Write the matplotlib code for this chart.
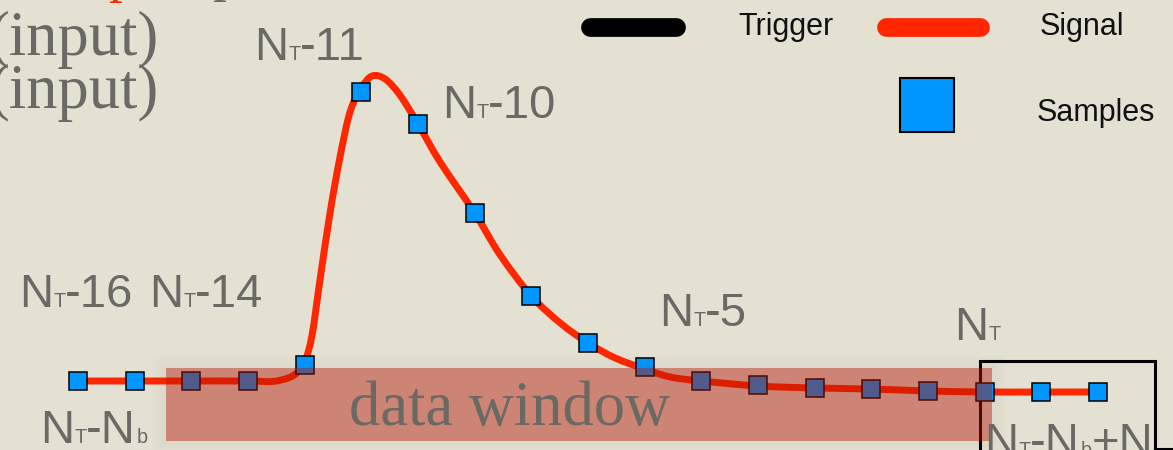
import matplotlib
matplotlib.use("Agg")
import matplotlib.pyplot as plt
from matplotlib.path import Path
from matplotlib.patches import PathPatch, Rectangle
import numpy as np

# ---------------- data ----------------
# sample index (0 = N_T-N_b) and amplitude of each sample
sample_index = list(range(19))
sample_amp = [19, 19, 19, 19, 35, 308, 276, 187, 104, 57, 33, 19, 15, 12, 11, 9, 8, 8, 8]

# signal curve knots (sample-index units, amplitude)
signal_x = [0, 1, 2, 3, 3.42, 3.71, 3.88, 4.0, 4.13, 4.27, 4.45, 4.62, 4.80, 5.0, 5.19,
            5.42, 5.68, 6.0, 6.39, 7, 7.45, 8, 8.51, 9, 9.48, 10, 10.45, 11, 12, 13, 14,
            15, 16, 17, 18]
signal_a = [19, 19, 19, 19, 18.5, 22, 28, 37, 65, 120, 188, 242, 288, 312, 324,
            321, 305, 276, 238, 187, 145, 104, 77, 57, 42, 31, 23, 19, 14, 12, 11,
            9, 8, 8, 8]

window_start, window_end = 1.56, 16.13     # data window (sample-index units)

legend_labels = ["Trigger", "Signal", "Samples"]

# ---------------- style ----------------
BG = "#e4e1d3"
GREY = "#6b6964"
RED = "#ff2600"
BLUE = "#0096ff"
W, H = 1173, 450
X0, DX = 78.0, 56.67

def px_x(px):
    return (px - X0) / DX

def px_y(py):
    return 400 - py

fig = plt.figure(figsize=(W / 100, H / 100), dpi=100)
fig.patch.set_facecolor(BG)
ax = fig.add_axes([0, 0, 1, 1])
ax.set_facecolor(BG)
ax.set_xlim(px_x(0), px_x(W))
ax.set_ylim(px_y(H), px_y(0))
ax.axis("off")

# --- trigger box (under the data window) ---
box = Rectangle((px_x(980), px_y(470)), px_x(1155) - px_x(980), px_y(361) - px_y(470),
                fill=False, ec="black", lw=2.2, zorder=2)
ax.add_patch(box)
ax.plot([px_x(1155), px_x(1173)], [px_y(449), px_y(449)], color="black", lw=2.2, zorder=2)

# --- signal curve (Catmull-Rom -> Bezier) ---
P = np.column_stack([signal_x, signal_a]).astype(float)
Pext = np.vstack([P[0], P, P[-1]])
verts = [tuple(P[0])]
codes = [Path.MOVETO]
for k in range(1, len(Pext) - 2):
    p0, p1, p2, p3 = Pext[k - 1], Pext[k], Pext[k + 1], Pext[k + 2]
    c1 = p1 + (p2 - p0) / 6.0
    c2 = p2 - (p3 - p1) / 6.0
    verts += [tuple(c1), tuple(c2), tuple(p2)]
    codes += [Path.CURVE4] * 3
ax.add_patch(PathPatch(Path(verts, codes), fill=False, ec=RED, lw=5,
                       capstyle="round", joinstyle="round", zorder=3))

# --- samples ---
ax.plot(sample_index, sample_amp, ls="none", marker="s", ms=13.5, mfc=BLUE,
        mec="black", mew=1.1, zorder=4)

# --- data window soft shadow (rings) + rectangle ---
def rect_path(x0, y0, x1, y1, reverse=False):
    pts = [(x0, y0), (x1, y0), (x1, y1), (x0, y1), (x0, y0)]
    if reverse:
        pts = pts[::-1]
    return Path(pts, [Path.MOVETO, Path.LINETO, Path.LINETO, Path.LINETO, Path.CLOSEPOLY])

L, R, T, B = 166, 992, 368, 441
for k in range(1, 8):
    d_out, d_in = 2.0 * k, 2.0 * (k - 1)
    outer = rect_path(px_x(L - d_out), px_y(B + d_out), px_x(R + d_out), px_y(T - d_out))
    inner = rect_path(px_x(L - d_in), px_y(B + d_in), px_x(R + d_in), px_y(T - d_in), True)
    ring = Path.make_compound_path(outer, inner)
    ax.add_patch(PathPatch(ring, fc="black", ec="none", alpha=0.035 * (8 - k) / 7,
                           zorder=4.5))
ax.add_patch(Rectangle((window_start, px_y(B)), window_end - window_start, px_y(T) - px_y(B),
                       fc=(0.70, 0.08, 0.0), ec="none", alpha=0.45, zorder=5))
ax.text(px_x(510), px_y(425), "data window", family="Liberation Serif", fontsize=45,
        color=GREY, ha="center", va="baseline", zorder=6)

# --- top-left serif text ---
for base in (55, 108):
    ax.text(px_x(159), px_y(base), "(input)", family="Liberation Serif", fontsize=45,
            color=GREY, ha="right", va="baseline", zorder=6)
ax.text(px_x(122), px_y(-9), "p", family="Liberation Serif", fontsize=40, color=RED,
        ha="center", va="baseline", zorder=6)
ax.text(px_x(226), px_y(-10), "p", family="Liberation Serif", fontsize=40, color=GREY,
        ha="center", va="baseline", zorder=6)

# --- composite labels N_T ... ---
renderer = fig.canvas.get_renderer()

def label(x_px, base_px, parts, size=34, clip=None):
    x = x_px
    for s, f in parts:
        t = ax.text(px_x(x), px_y(base_px), s, fontsize=size * f, family="Liberation Sans",
                    color=GREY, ha="left", va="baseline", zorder=6)
        if clip is not None:
            t.set_clip_path(clip)
        x += t.get_window_extent(renderer).width

NT = [("N", 1), ("T", 0.42)]
label(254, 60, NT + [("-11", 1)])
label(442, 118, NT + [("-10", 1)])
label(19, 307, NT + [("-16", 1)])
label(149, 307, NT + [("-14", 1)])
label(659, 326, NT + [("-5", 1)])
label(954, 340, NT)
label(40, 443, NT + [("-N", 1), ("b", 0.42)])
label(984, 456, NT + [("-N", 1), ("b", 0.42), ("+N", 1)], clip=box)

# --- legend ---
ax.plot([px_x(590), px_x(676)], [px_y(27), px_y(27)], color="black", lw=13.5,
        solid_capstyle="round", zorder=6)
ax.plot([px_x(886), px_x(980)], [px_y(27), px_y(27)], color=RED, lw=13.5,
        solid_capstyle="round", zorder=6)
ax.plot([px_x(927)], [px_y(105)], ls="none", marker="s", ms=39, mfc=BLUE, mec="black",
        mew=1.5, zorder=6)
for (xx, yy), lab in zip([(738, 27), (1040, 27), (1037, 113)], legend_labels):
    ax.text(px_x(xx), px_y(yy), lab, family="Liberation Sans", fontsize=22, color="#111111",
            ha="left", va="center", zorder=6)

fig.savefig("out.png", dpi=100, facecolor=BG)
